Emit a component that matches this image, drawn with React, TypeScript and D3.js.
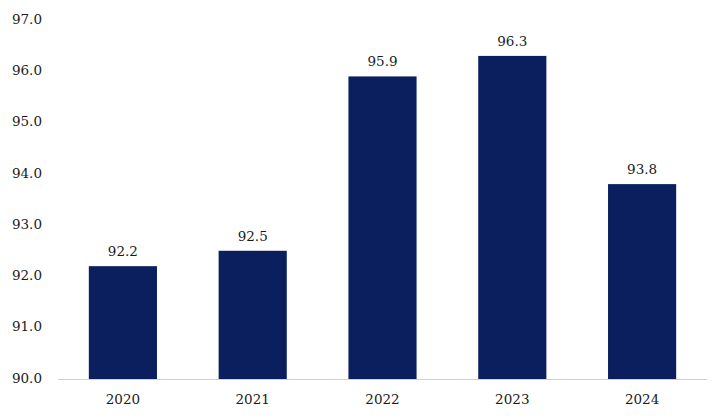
import React from "react";
import * as d3 from "d3";

const categories = ["2020", "2021", "2022", "2023", "2024"];
const values = [92.2, 92.5, 95.9, 96.3, 93.8];
const yTicks = [90, 91, 92, 93, 94, 95, 96, 97];

export default function App() {
  const W = 728, H = 420;
  const left = 58, right = 707, top = 20, bottom = 379;
  const x = d3.scaleBand<string>().domain(categories).range([left, right]).paddingInner(0.475).paddingOuter(0.2375);
  const y = d3.scaleLinear().domain([90, 97]).range([bottom, top]);
  const font = "'DejaVu Serif', serif";
  const fs = 13.5;
  return (
    <svg width={W} height={H} style={{ position: "absolute", left: 0, top: 0, background: "#fff" }}>
      {yTicks.map((t) => (
        <text key={t} x={42} y={y(t) - 1} dy="0.35em" textAnchor="end" fontFamily={font} fontSize={fs} fill="#1a1a1a">
          {t.toFixed(1)}
        </text>
      ))}
      {categories.map((c, i) => (
        <g key={c}>
          <rect x={x(c)} y={y(values[i])} width={x.bandwidth()} height={y(90) - y(values[i])} fill="#0b1f5e" />
          <text x={(x(c) as number) + x.bandwidth() / 2} y={y(values[i]) - 10} textAnchor="middle" fontFamily={font} fontSize={fs} fill="#1a1a1a">
            {values[i].toFixed(1)}
          </text>
          <text x={(x(c) as number) + x.bandwidth() / 2} y={399} dy="0.35em" textAnchor="middle" fontFamily={font} fontSize={fs} fill="#1a1a1a">
            {c}
          </text>
        </g>
      ))}
      <line x1={left} x2={right} y1={bottom + 0.5} y2={bottom + 0.5} stroke="#d0d0d0" strokeWidth={1} />
    </svg>
  );
}
